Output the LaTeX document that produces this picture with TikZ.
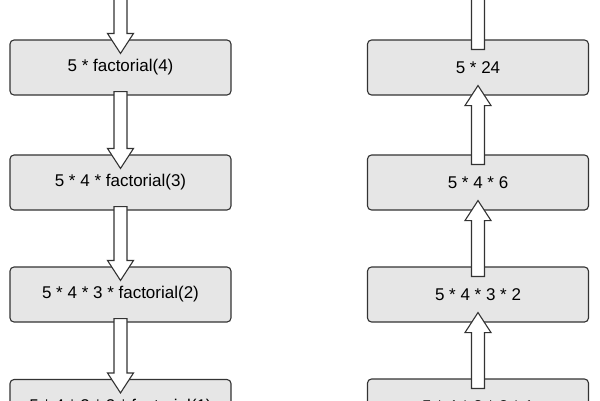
\documentclass[tikz,border=0pt]{standalone}
\usepackage{fontspec}
\setmainfont{Liberation Sans}
\usetikzlibrary{calc}
\definecolor{boxfill}{HTML}{E6E6E6}
\definecolor{boxline}{HTML}{333333}
\tikzset{
  stepbox/.style={draw=boxline, fill=boxfill, line width=1.1pt, rounded corners=4pt,
    minimum width=221pt, minimum height=55pt, inner sep=0pt,
    font=\fontsize{17}{20}\selectfont, text=black},
  hollow/.style={draw=boxline, fill=white, line width=1.1pt, line join=miter}
}
\newcommand{\hollowdown}[2]{%
  \draw[hollow] let \p1=#1, \p2=#2 in
    (\x1-6.5pt,\y1+4pt) -- (\x1+6.5pt,\y1+4pt) -- (\x1+6.5pt,\y2+6pt) --
    (\x1+13pt,\y2+6pt) -- (\x1,\y2-14pt) -- (\x1-13pt,\y2+6pt) --
    (\x1-6.5pt,\y2+6pt) -- cycle;}
\newcommand{\hollowup}[2]{%
  \draw[hollow] let \p1=#1, \p2=#2 in
    (\x1-6.5pt,\y1-10pt) -- (\x1+6.5pt,\y1-10pt) -- (\x1+6.5pt,\y2-10pt) --
    (\x1+13pt,\y2-10pt) -- (\x1,\y2+10pt) -- (\x1-13pt,\y2-10pt) --
    (\x1-6.5pt,\y2-10pt) -- cycle;}
\begin{document}
\begin{tikzpicture}[x=1pt,y=-1pt]
\useasboundingbox (0,0) rectangle (600,400);
\clip (0,0) rectangle (600,400);
% left column
\node[stepbox] (L1) at (120.5,67.5) {5 * factorial(4)};
\node[stepbox] (L2) at (120.5,182.5) {5 * 4 * factorial(3)};
\node[stepbox] (L3) at (120.5,294.5) {5 * 4 * 3 * factorial(2)};
\node[stepbox] (L4) at (120.5,407) {5 * 4 * 3 * 2 * factorial(1)};
% right column
\node[stepbox] (R1) at (478,67.5) {5 * 24};
\node[stepbox] (R2) at (478,182.5) {5 * 4 * 6};
\node[stepbox] (R3) at (478,294.5) {5 * 4 * 3 * 2};
\node[stepbox] (R4) at (478,406.5) {5 * 4 * 3 * 2 * 1};
\coordinate (topL) at (120.5,-20);
\coordinate (topR) at (478,-60);
% down arrows
\hollowdown{(topL)}{(L1.north)}
\hollowdown{(L1.south)}{(L2.north)}
\hollowdown{(L2.south)}{(L3.north)}
\hollowdown{(L3.south)}{(L4.north)}
% up arrows
\hollowup{(R1.north)}{(topR)}
\hollowup{(R2.north)}{(R1.south)}
\hollowup{(R3.north)}{(R2.south)}
\hollowup{(R4.north)}{(R3.south)}
\end{tikzpicture}
\end{document}
